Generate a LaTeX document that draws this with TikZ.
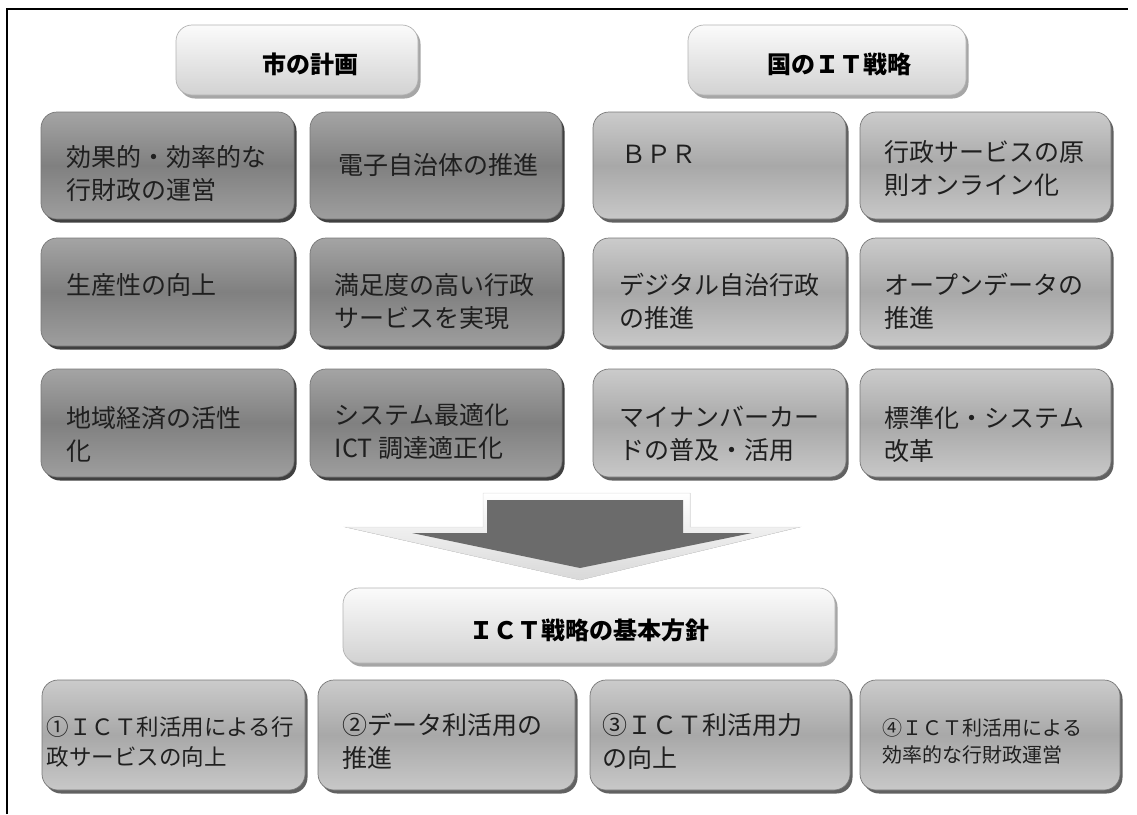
\documentclass[tikz,border=0pt]{standalone}
\usepackage{fontspec}
\setmainfont{Noto Sans CJK JP}
\definecolor{dkTop}{HTML}{A4A4A4}
\definecolor{dkMid}{HTML}{808080}
\definecolor{dkBot}{HTML}{9E9E9E}
\definecolor{ltTop}{HTML}{CBCBCB}
\definecolor{ltMid}{HTML}{A8A8A8}
\definecolor{ltBot}{HTML}{C8C8C8}
\definecolor{hdTop}{HTML}{FBFBFB}
\definecolor{hdBot}{HTML}{D2D2D2}
\definecolor{arrDark}{HTML}{6B6B6B}
\definecolor{edge}{HTML}{777777}
\tikzset{
  basebox/.style={rounded corners=16pt, draw=edge, line width=0.7pt, inner sep=0pt},
  darkbox/.style={basebox, top color=dkTop, bottom color=dkBot, middle color=dkMid},
  lightbox/.style={basebox, top color=ltTop, bottom color=ltBot, middle color=ltMid},
  headbox/.style={basebox, draw=black!30, top color=hdTop, bottom color=hdBot},
  shadowfill/.style={rounded corners=16pt, fill=black!68},
  txt/.style={inner sep=0pt, align=left, anchor=north west, text=black!88,
    font=\fontsize{25}{33}\selectfont},
  smalltxt/.style={txt, font=\fontsize{22.5}{30}\selectfont},
  tinytxt/.style={txt, font=\fontsize{20}{27}\selectfont},
  headtxt/.style={inner sep=0pt, text=black, font=\fontsize{24}{30}\selectfont\bfseries}
}
% #1 name, #2 style, #3 x1, #4 y1, #5 x2, #6 y2, #7 shadow colour
\newcommand\placebox[7]{%
  \fill[shadowfill, fill=#7] ({#3+3},{#4+3}) rectangle ({#5+2.5},{#6+3.5});
  \node[#2, minimum width={#5pt-#3pt}, minimum height={#6pt-#4pt}] (#1) at ({(#3+#5)/2},{(#4+#6)/2}) {};}
\begin{document}
\begin{tikzpicture}[x=1pt,y=-1pt]
\useasboundingbox (0,0) rectangle (1137,814);
% frame
\draw[line width=1.6pt] (7,814) -- (7,9) -- (1128,9);
% headers
\placebox{h1}{headbox}{176}{25}{418}{95}{black!35}
\placebox{h2}{headbox}{688}{25}{966}{95}{black!35}
\node[headtxt] (h1t) at ([shift={(13,4)}]h1.center) {市の計画};
\node[headtxt] (h2t) at ([shift={(12,4)}]h2.center) {国のＩＴ戦略};
% left group
\placebox{a1}{darkbox}{41}{112}{294}{219}{black!75}
\placebox{a2}{darkbox}{310}{112}{562}{219}{black!75}
\placebox{a3}{darkbox}{41}{238}{294}{346}{black!75}
\placebox{a4}{darkbox}{310}{238}{562}{346}{black!75}
\placebox{a5}{darkbox}{41}{369}{294}{477}{black!75}
\placebox{a6}{darkbox}{310}{369}{562}{477}{black!75}
\node[txt] (a1t) at ([shift={(26,33.5)}]a1.north west) {効果的・効率的な\\行財政の運営};
\node[txt, anchor=center] (a2t) at ([shift={(2,0)}]a2.center) {電子自治体の推進};
\node[txt] (a3t) at ([shift={(26,35.5)}]a3.north west) {生産性の向上};
\node[txt] (a4t) at ([shift={(25,35.5)}]a4.north west) {満足度の高い行政\\サービスを実現};
\node[txt] (a5t) at ([shift={(26,37.5)}]a5.north west) {地域経済の活性\\化};
\node[txt] (a6t) at ([shift={(25,34.5)}]a6.north west) {システム最適化\\ICT 調達適正化};
% right group
\placebox{c1}{lightbox}{593}{112}{846}{219}{black!62}
\placebox{c2}{lightbox}{860}{112}{1111}{219}{black!62}
\placebox{c3}{lightbox}{593}{238}{846}{346}{black!62}
\placebox{c4}{lightbox}{860}{238}{1111}{346}{black!62}
\placebox{c5}{lightbox}{593}{369}{846}{477}{black!62}
\placebox{c6}{lightbox}{860}{369}{1111}{477}{black!62}
\node[txt] (c1t) at ([shift={(29,33.5)}]c1.north west) {ＢＰＲ};
\node[txt] (c2t) at ([shift={(25,28.5)}]c2.north west) {行政サービスの原\\則オンライン化};
\node[txt] (c3t) at ([shift={(27,35.5)}]c3.north west) {デジタル自治行政\\の推進};
\node[txt] (c4t) at ([shift={(25,35.5)}]c4.north west) {オープンデータの\\推進};
\node[txt] (c5t) at ([shift={(27,37.5)}]c5.north west) {マイナンバーカー\\ドの普及・活用};
\node[txt] (c6t) at ([shift={(25,37.5)}]c6.north west) {標準化・システム\\改革};
% big arrow
\fill[top color=white, bottom color=black!15, draw=black!12, line width=0.5pt]
  (483,493) -- (690,493) -- (690,527) -- (800,527) -- (580,580) -- (345,527) -- (483,527) -- cycle;
\fill[arrDark]
  (487,500) -- (683,500) -- (683,533) -- (752,533) -- (580,568) -- (412,533) -- (487,533) -- cycle;
% strategy header
\placebox{h3}{headbox}{343}{588}{835}{663}{black!35}
\node[headtxt] (h3t) at ([shift={(0,5)}]h3.center) {ＩＣＴ戦略の基本方針};
% bottom row
\placebox{b1}{lightbox}{42}{680}{305}{790}{black!62}
\placebox{b2}{lightbox}{318}{680}{575}{790}{black!62}
\placebox{b3}{lightbox}{590}{680}{850}{790}{black!62}
\placebox{b4}{lightbox}{860}{680}{1120}{790}{black!62}
\node[smalltxt] (b1t) at ([shift={(5,37)}]b1.north west) {①ＩＣＴ利活用による行\\政サービスの向上};
\node[txt] (b2t) at ([shift={(25,33.5)}]b2.north west) {②データ利活用の\\推進};
\node[txt] (b3t) at ([shift={(13,33.5)}]b3.north west) {③ＩＣＴ利活用力\\の向上};
\node[tinytxt] (b4t) at ([shift={(23,39)}]b4.north west) {④ＩＣＴ利活用による\\効率的な行財政運営};
\end{tikzpicture}
\end{document}
